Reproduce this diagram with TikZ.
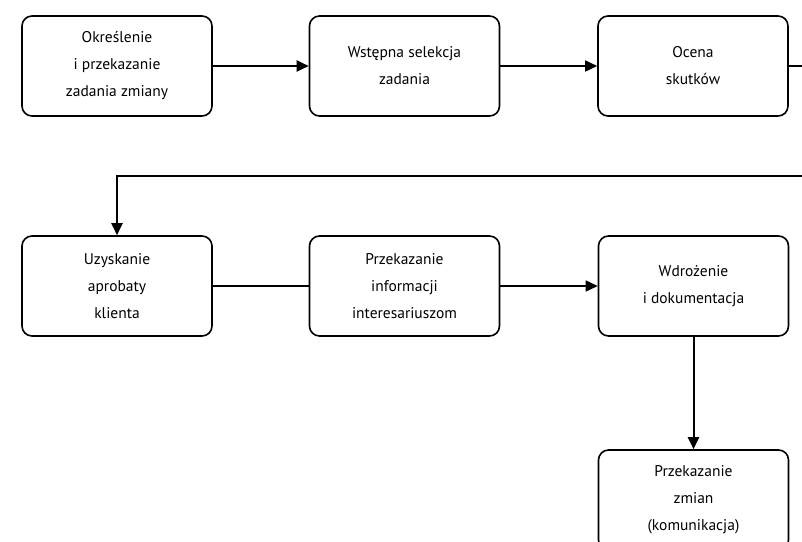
\documentclass[tikz,border=0pt]{standalone}
\usepackage{fontspec}
\setmainfont{PT Sans}
\usetikzlibrary{arrows.meta}
\begin{document}
\begin{tikzpicture}[x=1pt,y=1pt,
  box/.style={draw, line width=1.6pt, rounded corners=10pt, minimum width=190pt, minimum height=100pt, align=center, font=\fontsize{15.5}{27}\selectfont, inner sep=0pt},
  conn/.style={line width=2pt, -{Triangle[length=12pt,width=11pt]}},
  plain/.style={line width=1.6pt}]
\useasboundingbox (0,0) rectangle (802,-541);
\clip (0,0) rectangle (802,-541);
\node[box] (b1) at (117,-66) {Określenie\\i przekazanie\\zadania zmiany};
\node[box] (b2) at (404.5,-66) {Wstępna selekcja\\zadania};
\node[box] (b3) at (693,-66) {Ocena\\skutków};
\node[box] (b4) at (117,-286) {Uzyskanie\\aprobaty\\klienta};
\node[box] (b5) at (404.5,-286) {Przekazanie\\informacji\\interesariuszom};
\node[box] (b6) at (693.5,-286) {Wdrożenie\\i dokumentacja};
\node[box] (b7) at (693.5,-500) {Przekazanie\\zmian\\(komunikacja)};
\coordinate (r1) at (830,-66);
\coordinate (r2) at (830,-176);
\coordinate (l2) at (b4.north |- r2);
\draw[conn] (b1) -- (b2);
\draw[conn, line width=1.6pt] (b2) -- (b3);
\draw[conn] (b3.east) -- (r1) -- (r2) -- (l2) -- (b4.north);
\draw[plain] (b4) -- (b5);
\draw[conn, line width=1.6pt] (b5) -- (b6);
\draw[conn] (b6) -- (b7);
\end{tikzpicture}
\end{document}
